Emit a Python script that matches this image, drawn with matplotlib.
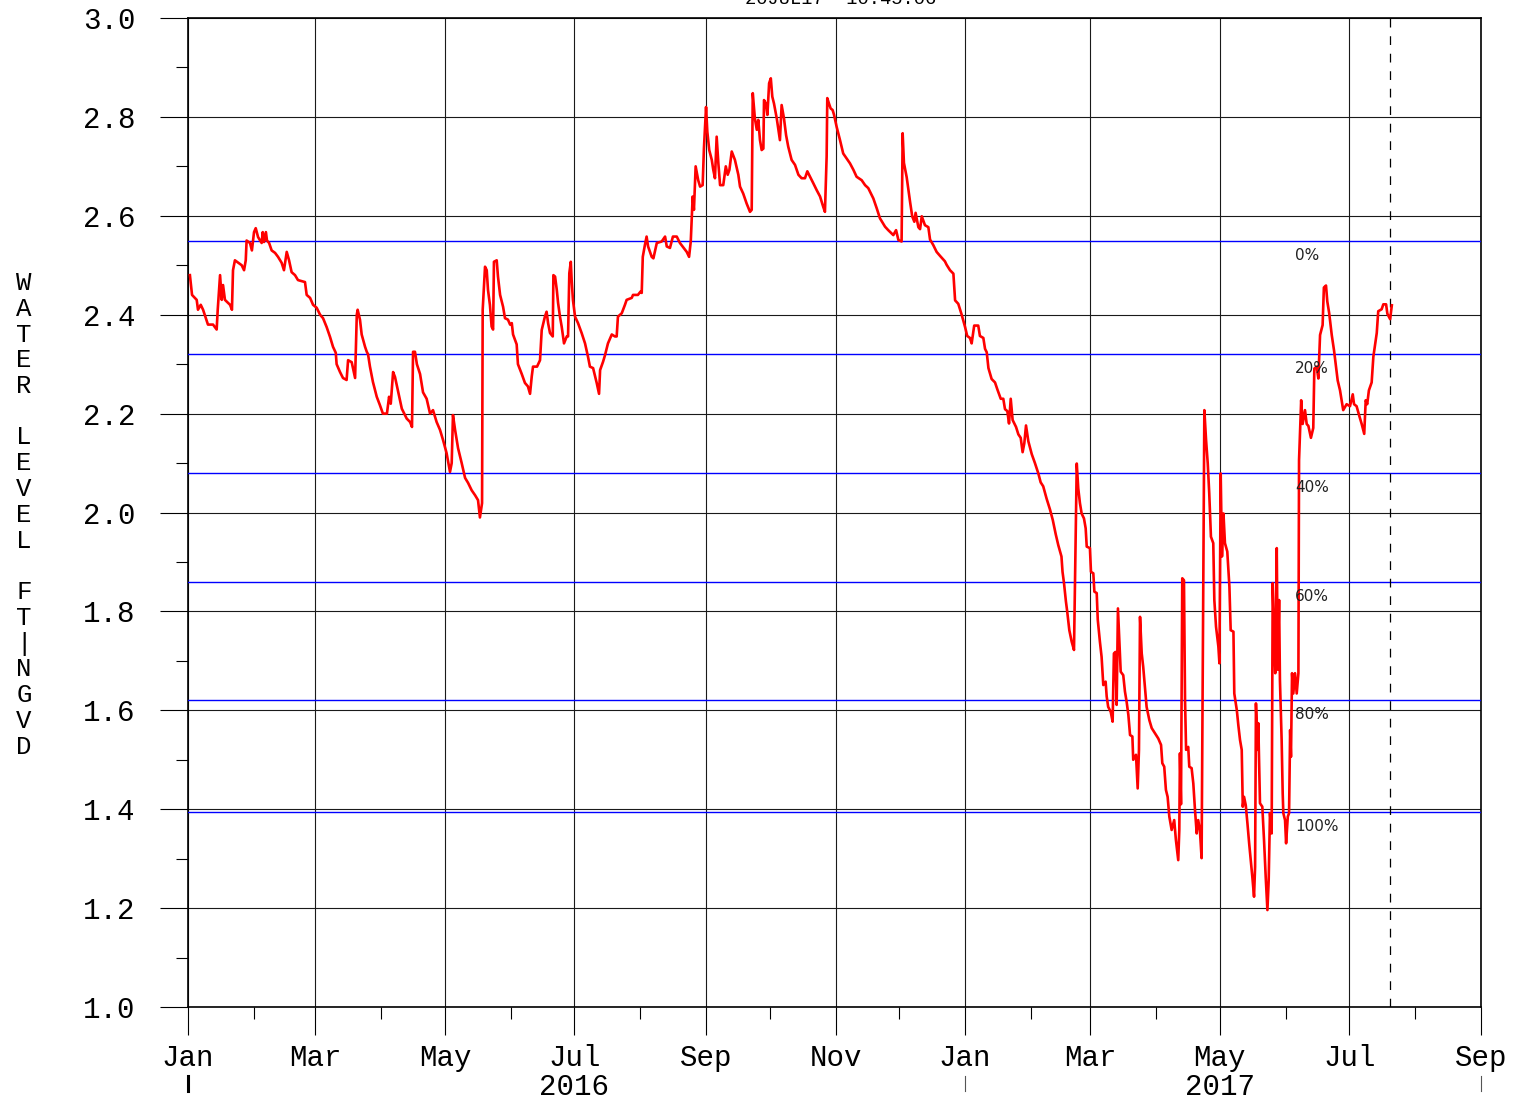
import numpy as np
import matplotlib
matplotlib.use("Agg")
import matplotlib.pyplot as plt
import matplotlib.dates as mdates
import matplotlib.transforms as mtransforms
from matplotlib.ticker import MultipleLocator, FormatStrFormatter
from datetime import datetime

# daily stage record (days since 1 Jan 2016, feet NGVD)
START = datetime(2016, 1, 1)
days = [
    0.9, 1.9, 4.1, 4.7, 6.0, 7.1, 9.4, 11.8, 13.5, 14.0,
    15.1, 15.9, 16.5, 17.4, 19.8, 20.7, 21.2, 22.1, 25.3, 26.4,
    27.2, 27.6, 29.2, 30.1, 31.1, 31.9, 33.0, 34.7, 35.2, 35.8,
    36.7, 37.2, 38.2, 39.4, 41.0, 42.4, 44.1, 45.2, 46.5, 47.6,
    48.8, 50.4, 51.8, 55.1, 55.9, 57.5, 58.9, 60.6, 62.2, 63.6,
    65.3, 66.9, 68.3, 69.6, 70.0, 71.6, 73.0, 74.7, 75.4, 77.1,
    78.7, 79.5, 79.9, 81.0, 81.8, 83.4, 84.2, 84.8, 85.7, 87.1,
    88.9, 90.4, 91.8, 93.7, 94.7, 95.5, 96.6, 97.5, 98.3, 99.9,
    100.7, 103.0, 104.6, 105.5, 106.0, 106.9, 107.8, 109.3, 110.7, 112.4,
    114.0, 115.4, 117.1, 118.7, 120.1, 121.8, 123.4, 124.2, 124.8, 125.8,
    127.2, 128.9, 130.5, 131.9, 133.6, 135.2, 136.6, 137.5, 138.5, 138.8,
    139.9, 140.7, 141.3, 142.2, 143.0, 143.7, 144.1, 145.4, 146.0, 147.0,
    148.4, 149.3, 150.7, 151.7, 152.5, 153.1, 154.8, 155.4, 157.2, 158.7,
    160.1, 161.1, 161.9, 162.5, 164.4, 165.8, 166.6, 168.1, 168.9, 169.6,
    170.5, 171.8, 172.1, 172.9, 173.7, 174.3, 175.2, 176.0, 177.1, 178.4,
    179.0, 179.6, 180.3, 180.7, 181.3, 182.3, 183.7, 185.4, 187.0, 188.4,
    189.3, 190.8, 192.5, 193.6, 194.1, 195.5, 196.4, 197.8, 199.6, 201.1,
    201.9, 202.5, 204.3, 205.8, 206.6, 209.0, 209.6, 211.9, 213.2, 213.7,
    214.2, 215.2, 216.0, 216.7, 218.4, 219.2, 220.8, 223.1, 224.7, 225.5,
    227.0, 227.8, 228.4, 230.2, 231.7,
    234.9, 236.0, 236.8, 237.7, 238.3, 239.1, 240.3, 241.2, 242.4, 243.0,
    244.0, 244.6, 245.5, 246.7, 247.4, 248.2, 249.0, 249.8, 250.6, 252.1,
    253.3, 254.2, 255.0, 256.1, 257.6, 259.2, 260.0, 261.5, 263.1, 264.7,
    265.5, 266.0, 267.0, 267.9, 268.6, 269.4, 270.2, 271.0, 271.3, 272.2,
    272.9, 273.7, 274.5, 275.2, 276.0, 277.3, 278.8, 279.6, 280.7, 281.7,
    282.7, 284.3, 285.9, 287.5, 289.0, 290.6, 291.7, 293.0, 294.5, 296.1,
    297.7, 299.2, 300.0, 300.8, 301.1, 301.9, 302.7, 303.6, 304.3, 305.5,
    307.1, 308.6, 310.2, 311.8, 313.4, 314.9, 317.3, 318.9, 320.4, 322.8,
    324.4, 325.9, 328.3, 329.8, 332.2, 333.5, 334.6, 336.1, 336.6,
    337.2, 338.5, 340.1, 341.1, 342.1, 342.7, 344.0, 344.8, 345.6, 347.1,
    348.7, 349.5, 351.0, 352.6, 354.2, 356.5, 357.3, 358.9, 360.5, 361.3,
    362.8, 364.4, 366.0, 367.0, 368.3, 369.1, 370.3, 372.2, 373.0, 374.6,
    375.4, 376.2, 377.0, 378.5, 380.1, 381.2, 382.8, 384.0, 384.8, 385.9,
    386.7, 387.5, 388.4, 390.0, 391.1, 392.2, 393.1, 393.9, 394.7, 395.8,
    397.4, 398.9, 400.5, 401.6, 402.8, 404.4, 406.0, 407.3, 408.7, 409.9,
    411.4, 411.9, 412.6, 413.5, 414.1, 415.1, 416.2, 417.3, 418.6,
    419.3, 420.1, 420.9, 422.0, 422.8, 423.3, 424.8, 425.3, 426.4, 426.9,
    428.0, 428.5, 429.5, 430.3, 431.1, 432.2, 432.7, 433.4, 434.6, 435.5,
    436.1, 436.8, 437.4, 438.0, 438.6, 439.3, 440.5, 441.3, 442.1, 442.9,
    443.7, 444.8, 445.2, 446.5, 447.3, 447.9, 448.4, 449.2, 449.9, 450.7,
    451.5, 452.8, 453.9, 455.5, 457.0, 458.3, 458.9, 459.8, 460.6, 461.4,
    462.2, 463.3, 464.5, 465.3, 466.4, 466.9, 467.2, 467.7, 468.3, 469.1,
    469.6, 470.1, 471.1, 471.6, 472.7, 473.5, 474.3, 475.1, 475.8, 476.6,
    477.4, 478.7, 479.5, 480.3, 481.0, 481.8, 482.9, 483.4, 484.2, 485.3,
    485.8,
    486.4, 487.0, 487.7, 488.4, 489.5, 490.5, 491.1, 492.4, 492.8, 494.0,
    494.7, 495.5, 496.3, 496.8, 497.4, 498.2, 499.0, 499.8, 500.7, 501.3,
    502.1, 502.6, 503.0, 503.8, 504.1, 504.9, 506.0, 506.8, 507.6, 508.4,
    509.0, 509.6, 510.4, 510.9, 511.5, 512.1, 512.8, 513.3, 513.9, 514.3,
    515.1, 515.6, 515.9, 516.7, 517.2, 518.0, 518.6, 519.1, 519.5, 520.0,
    520.6, 521.4, 522.2, 523.0, 523.3, 524.3,
    525.0, 526.1, 526.9, 527.7, 528.9, 530.0, 530.5, 531.6, 532.4, 533.2,
    534.4, 535.0, 536.0, 536.6, 537.5, 538.7, 539.8, 540.7, 541.5, 542.6,
    544.1, 545.7, 547.3, 548.6, 549.2, 550.4, 551.7, 552.8, 554.0, 554.7,
    555.4, 556.2, 557.5, 558.3, 559.1, 559.9, 560.6, 562.2, 563.0, 564.3,
    564.9, 566.2, 567.0,
]
stage = [
    2.48, 2.44, 2.43, 2.41, 2.42, 2.41, 2.38, 2.38, 2.37, 2.41,
    2.48, 2.43, 2.46, 2.43, 2.42, 2.41, 2.49, 2.51, 2.50, 2.49,
    2.51, 2.55, 2.545, 2.53, 2.567, 2.575, 2.557, 2.545, 2.567, 2.547,
    2.567, 2.55, 2.545, 2.53, 2.525, 2.517, 2.505, 2.49, 2.527, 2.51,
    2.486, 2.48, 2.47, 2.466, 2.44, 2.434, 2.42, 2.414, 2.40, 2.393,
    2.375, 2.355, 2.335, 2.323, 2.30, 2.284, 2.272, 2.268, 2.308, 2.304,
    2.272, 2.40, 2.41, 2.39, 2.36, 2.335, 2.325, 2.32, 2.295, 2.264,
    2.234, 2.217, 2.20, 2.20, 2.234, 2.22, 2.284, 2.274, 2.258, 2.227,
    2.21, 2.19, 2.183, 2.173, 2.325, 2.325, 2.30, 2.28, 2.243, 2.23,
    2.20, 2.207, 2.183, 2.167, 2.147, 2.12, 2.082, 2.10, 2.197, 2.167,
    2.13, 2.10, 2.07, 2.06, 2.045, 2.035, 2.025, 1.99, 2.019, 2.41,
    2.497, 2.49, 2.45, 2.42, 2.376, 2.37, 2.507, 2.51, 2.477, 2.44,
    2.416, 2.393, 2.39, 2.38, 2.383, 2.36, 2.34, 2.30, 2.28, 2.262,
    2.255, 2.24, 2.275, 2.295, 2.295, 2.308, 2.369, 2.396, 2.406, 2.383,
    2.363, 2.356, 2.48, 2.477, 2.45, 2.424, 2.396, 2.376, 2.342, 2.356,
    2.356, 2.484, 2.507, 2.47, 2.43, 2.396, 2.383, 2.363, 2.342, 2.315,
    2.295, 2.292, 2.262, 2.24, 2.288, 2.305, 2.318, 2.342, 2.36, 2.356,
    2.356, 2.396, 2.403, 2.42, 2.43, 2.434, 2.44, 2.44, 2.447, 2.444,
    2.517, 2.541, 2.558, 2.538, 2.517, 2.514, 2.545, 2.548, 2.558, 2.538,
    2.535, 2.548, 2.558, 2.558, 2.545,
    2.527, 2.517, 2.548, 2.639, 2.612, 2.70, 2.672, 2.659, 2.662, 2.736,
    2.82, 2.77, 2.733, 2.713, 2.693, 2.676, 2.76, 2.706, 2.662, 2.662,
    2.70, 2.683, 2.693, 2.73, 2.713, 2.683, 2.659, 2.645, 2.625, 2.608,
    2.612, 2.848, 2.797, 2.774, 2.794, 2.753, 2.733, 2.736, 2.834, 2.827,
    2.804, 2.868, 2.878, 2.841, 2.827, 2.797, 2.753, 2.824, 2.797, 2.763,
    2.74, 2.713, 2.703, 2.683, 2.676, 2.676, 2.69, 2.679, 2.666, 2.652,
    2.639, 2.618, 2.608, 2.72, 2.838, 2.827, 2.817, 2.814, 2.804, 2.78,
    2.753, 2.726, 2.716, 2.706, 2.693, 2.679, 2.672, 2.662, 2.656, 2.635,
    2.615, 2.595, 2.578, 2.571, 2.561, 2.571, 2.551, 2.548, 2.767,
    2.707, 2.678, 2.628, 2.599, 2.588, 2.606, 2.577, 2.573, 2.599, 2.581,
    2.577, 2.552, 2.541, 2.527, 2.519, 2.508, 2.501, 2.49, 2.483, 2.429,
    2.422, 2.40, 2.375, 2.357, 2.353, 2.342, 2.378, 2.378, 2.357, 2.353,
    2.331, 2.324, 2.292, 2.27, 2.263, 2.249, 2.23, 2.23, 2.209, 2.205,
    2.18, 2.23, 2.187, 2.173, 2.158, 2.151, 2.122, 2.14, 2.176, 2.144,
    2.118, 2.10, 2.079, 2.061, 2.053, 2.028, 2.006, 1.985, 1.956, 1.934,
    1.911, 1.88, 1.857, 1.82, 1.80, 1.762, 1.739, 1.722, 2.099,
    2.049, 2.019, 1.998, 1.988, 1.968, 1.931, 1.928, 1.88, 1.877, 1.84,
    1.837, 1.783, 1.739, 1.708, 1.651, 1.658, 1.628, 1.607, 1.597, 1.577,
    1.715, 1.718, 1.611, 1.806, 1.749, 1.678, 1.671, 1.638, 1.617, 1.591,
    1.55, 1.547, 1.50, 1.51, 1.442, 1.52, 1.789, 1.715, 1.688, 1.648,
    1.607, 1.58, 1.564, 1.553, 1.543, 1.53, 1.493, 1.486, 1.439, 1.425,
    1.385, 1.358, 1.378, 1.338, 1.297, 1.358, 1.513, 1.41, 1.867, 1.863,
    1.621, 1.52, 1.526, 1.486, 1.483, 1.452, 1.398, 1.351, 1.378, 1.358,
    1.301, 2.207, 2.147, 2.099, 2.039, 1.951, 1.938, 1.823, 1.769, 1.729,
    1.695,
    2.079, 1.911, 1.998, 1.938, 1.921, 1.85, 1.762, 1.759, 1.634, 1.60,
    1.57, 1.54, 1.52, 1.405, 1.425, 1.408, 1.371, 1.331, 1.29, 1.263,
    1.223, 1.284, 1.614, 1.52, 1.574, 1.412, 1.405, 1.338, 1.263, 1.196,
    1.256, 1.392, 1.351, 1.857, 1.756, 1.675, 1.928, 1.682, 1.823, 1.661,
    1.54, 1.432, 1.392, 1.378, 1.331, 1.385, 1.392, 1.56, 1.506, 1.675,
    1.634, 1.675, 1.634, 1.675, 2.106, 2.227,
    2.179, 2.207, 2.179, 2.175, 2.151, 2.171, 2.291, 2.295, 2.271, 2.359,
    2.379, 2.455, 2.459, 2.427, 2.403, 2.359, 2.327, 2.295, 2.267, 2.247,
    2.207, 2.219, 2.215, 2.239, 2.219, 2.215, 2.195, 2.179, 2.159, 2.227,
    2.219, 2.247, 2.263, 2.315, 2.339, 2.363, 2.407, 2.411, 2.421, 2.421,
    2.402, 2.391, 2.419,
]
assert len(days) == len(stage), (len(days), len(stage))

# percentile reference levels
pct_levels = [2.55, 2.32, 2.08, 1.86, 1.62, 1.395]
pct_labels = ["0%", "20%", "40%", "60%", "80%", "100%"]

run_date = datetime(2017, 7, 20)
stamp = "20JUL17  10:45:06"
ylabel_chars = list("WATER") + [""] + list("LEVEL") + [""] + list("FT|NGVD")

W, H = 1517, 1101
plt.rcParams["font.family"] = ["Liberation Mono", "DejaVu Sans Mono"]

fig = plt.figure(figsize=(W / 100, H / 100), dpi=100)
ax = fig.add_axes([188 / W, 1 - 1007 / H, (1481 - 188) / W, (1007 - 18) / H])

t0 = mdates.date2num(START)
x = t0 + np.array(days)
ax.plot(x, stage, color="red", lw=1.9, zorder=4)

lab_x = t0 + 521.4
for lev, lab in zip(pct_levels, pct_labels):
    ax.axhline(lev, color="#0000ff", lw=1.0, zorder=3)
    ax.annotate(lab, xy=(lab_x, lev), xytext=(0, -7), textcoords="offset pixels",
                ha="left", va="top", fontsize=11, family="DejaVu Sans",
                color="#222222", zorder=5)

ax.axvline(mdates.date2num(run_date), color="black", lw=0.9, ls=(0, (7, 7)), zorder=3)

ax.set_xlim(mdates.date2num(datetime(2016, 1, 1)), mdates.date2num(datetime(2017, 9, 1)))
ax.set_ylim(1.0, 3.0)

ax.xaxis.set_major_locator(mdates.MonthLocator(bymonth=[1, 3, 5, 7, 9, 11]))
ax.xaxis.set_minor_locator(mdates.MonthLocator())
ax.xaxis.set_major_formatter(mdates.DateFormatter("%b"))
ax.yaxis.set_major_locator(MultipleLocator(0.2))
ax.yaxis.set_minor_locator(MultipleLocator(0.1))
ax.yaxis.set_major_formatter(FormatStrFormatter("%.1f"))

ax.grid(which="major", color="#1a1a1a", lw=0.8)
ax.set_axisbelow(True)
ax.tick_params(which="major", length=20, width=0.8, direction="out", labelsize=21)
ax.tick_params(which="minor", length=8.6, width=0.8, direction="out")
ax.tick_params(axis="y", which="major", pad=18)
ax.tick_params(axis="x", which="major", pad=7)
for s in ax.spines.values():
    s.set_linewidth(1.2)

# year row under the month labels
trans = mtransforms.blended_transform_factory(ax.transData, ax.transAxes)
for yr_date, yr in [(datetime(2016, 7, 1), "2016"), (datetime(2017, 5, 1), "2017")]:
    ax.text(mdates.date2num(yr_date), -0.081, yr, transform=trans, ha="center",
            va="center", fontsize=21)
for d, lw, col in [(datetime(2016, 1, 1), 2.2, "black"),
                   (datetime(2017, 1, 1), 0.8, "#555555"),
                   (datetime(2017, 9, 1), 0.8, "#555555")]:
    dn = mdates.date2num(d)
    ax.plot([dn, dn], [-0.0698, -0.0849], transform=trans, color=col, lw=lw,
            clip_on=False)

# stacked y-axis title
for i, ch in enumerate(ylabel_chars):
    if ch:
        fig.text(24 / W, 1 - (283 + i * 25.75) / H, ch, ha="center", va="center",
                 fontsize=18.5)

# run stamp, clipped by the top edge as in the original plot
fig.text(841 / W, 1 - 4 / H, stamp, ha="center", va="baseline", fontsize=13.5)

fig.savefig("out.png", dpi=100)
